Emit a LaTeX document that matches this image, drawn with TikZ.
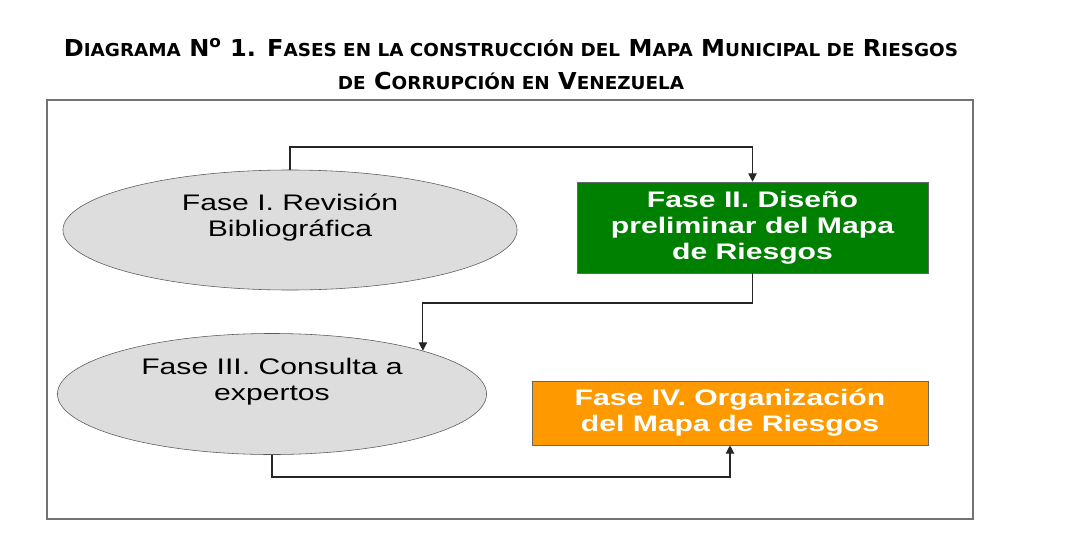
\documentclass[tikz,border=0pt]{standalone}
\usepackage{fontspec}
\setmainfont[FakeStretch=1.34]{Liberation Sans}
\newfontfamily\titlefont[FakeStretch=1.03]{DejaVu Sans}
\usetikzlibrary{arrows.meta}
\usetikzlibrary{shapes.geometric}
\usetikzlibrary{positioning}

\definecolor{verdefase}{RGB}{0,128,0}
\definecolor{naranjafase}{RGB}{255,153,0}
\definecolor{grisfase}{RGB}{221,221,221}

\newcommand{\versal}[1]{{\fontsize{12.7}{14}\selectfont #1}}

\tikzset{
  elipsefase/.style={ellipse, draw=black!65, fill=grisfase, inner sep=0pt},
  cajafase/.style={rectangle, draw=black!60, inner sep=0pt, text=white,
    font=\fontsize{16}{18.5}\selectfont\bfseries, align=center},
  textofase/.style={font=\fontsize{16}{18.5}\selectfont, align=center},
  conector/.style={draw=black!85, line width=0.8pt,
    -{Triangle[length=6pt,width=6pt]}},
  marco/.style={draw=black!55, line width=1pt}
}

\begin{document}
\begin{tikzpicture}[x=0.025cm,y=-0.025cm]

% fondo
\fill[white] (0,0) rectangle (1080,540);
\useasboundingbox (0,0) rectangle (1080,540);

% titulo
\node[anchor=base, font=\titlefont\bfseries\fontsize{16.6}{20}\selectfont] (titulo1) at (511,56)
  {D\versal{IAGRAMA} N\textsuperscript{o} 1. F\versal{ASES EN LA CONSTRUCCIÓN DEL} M\versal{APA} M\versal{UNICIPAL DE} R\versal{IESGOS}};
\node[anchor=base, font=\titlefont\bfseries\fontsize{16.6}{20}\selectfont] (titulo2) at (511,89)
  {\versal{DE} C\versal{ORRUPCIÓN EN} V\versal{ENEZUELA}};

% marco
\draw[marco] (47,100) rectangle (973,519);

% fases
\node[elipsefase, minimum width=11.35cm, minimum height=3cm] (f1) at (290,230) {};
\node[textofase] (t1) at (290,218) {Fase I. Revisión\\Bibliográfica};

\node[cajafase, fill=verdefase, minimum width=8.775cm, minimum height=2.275cm] (f2) at (752.5,227.5)
  {Fase II. Diseño\\preliminar del Mapa\\de Riesgos};

\node[elipsefase, minimum width=10.725cm, minimum height=3.025cm] (f3) at (272,394) {};
\node[textofase] (t3) at (272,382) {Fase III. Consulta a\\expertos};

\node[cajafase, fill=naranjafase, minimum width=9.9cm, minimum height=1.6cm] (f4) at (730,413)
  {Fase IV. Organización\\del Mapa de Riesgos};

% conectores
\coordinate (c1) at (290,147);
\coordinate (c2) at (752.5,303);
\coordinate (c3) at (272,477);

\draw[conector] (f1.north) -- (c1) -| (f2.north);
\draw[conector] (f2.south) -- (c2) -| (f3.16);
\draw[conector] (f3.south) -- (c3) -| (f4.south);

\end{tikzpicture}
\end{document}
